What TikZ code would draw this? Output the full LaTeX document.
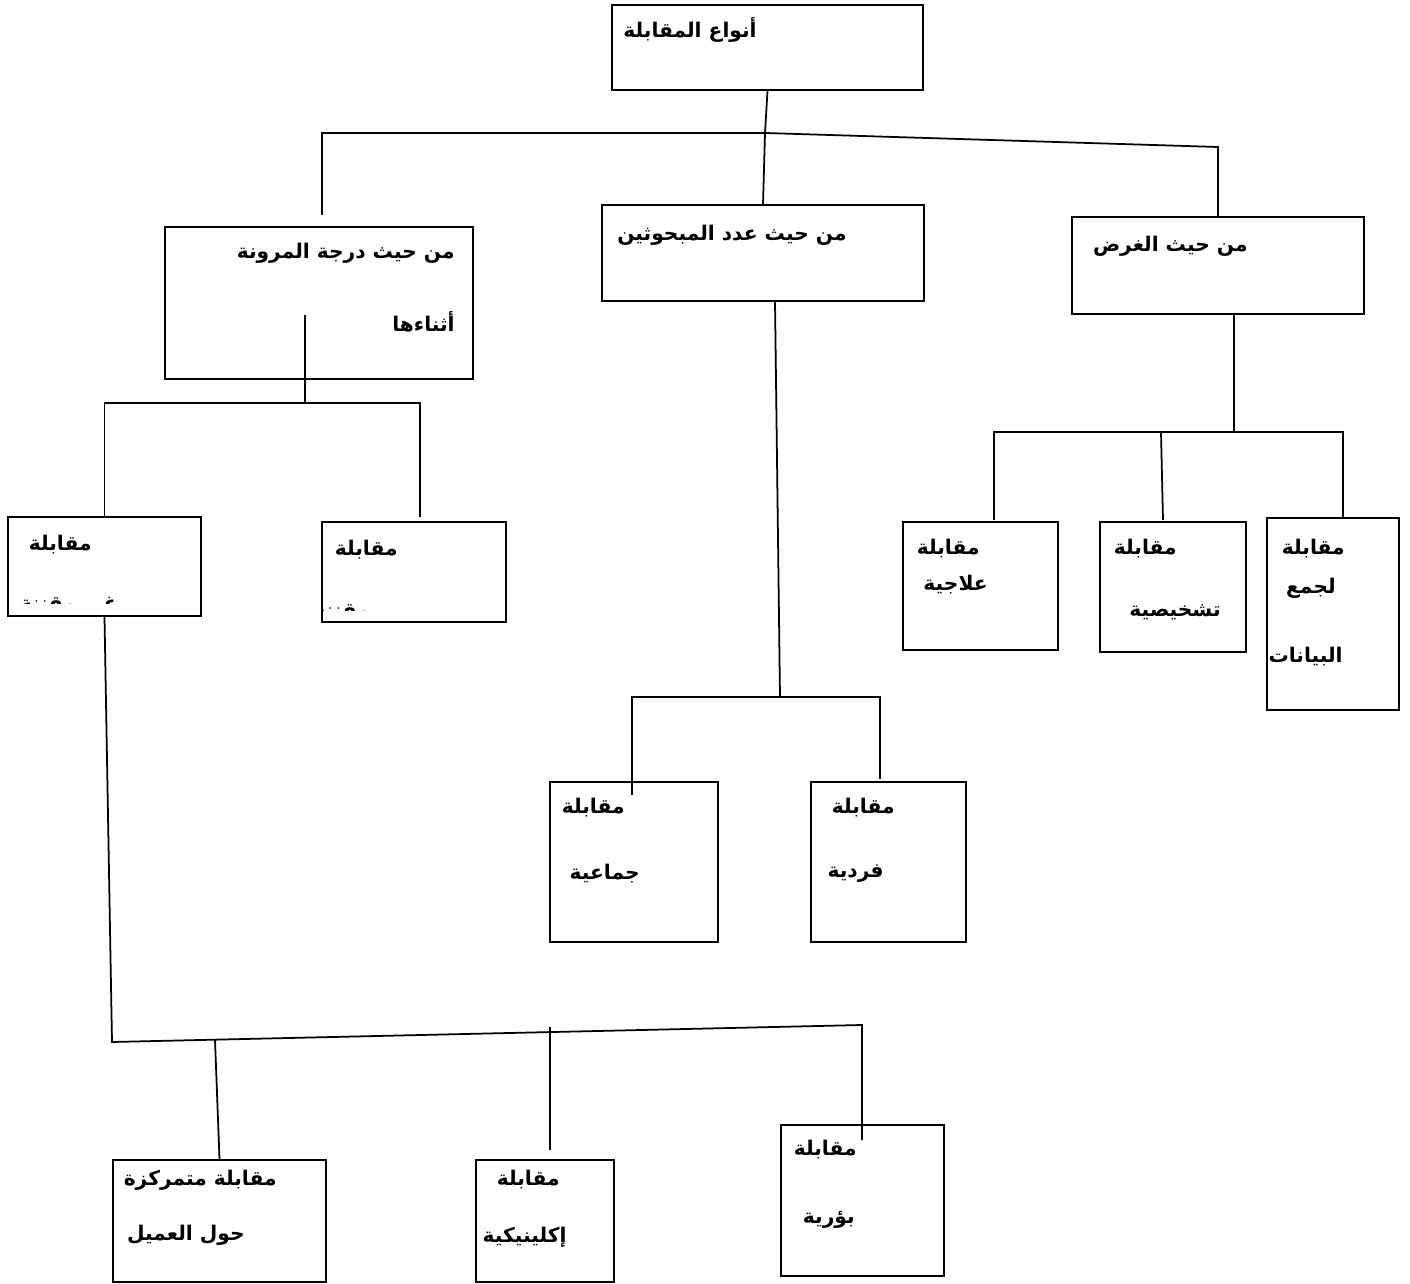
\documentclass[tikz,border=0pt]{standalone}
\usepackage{fontspec}
\newfontfamily\arabicfont[Script=Arabic]{DejaVu Sans}
\TeXXeTstate=1
\usetikzlibrary{fit}
\newcommand{\arb}[1]{\beginR #1\endR}

\begin{document}
\begin{tikzpicture}[x=0.02cm,y=-0.02cm,
        caja/.style={draw,line width=1.1pt,inner sep=0pt,fit={#1}},
        txt/.style={anchor=east,inner sep=0pt,font=\arabicfont\bfseries\fontsize{11.5}{14}\selectfont},
        linea/.style={line width=1pt}]
    \useasboundingbox (0,0) rectangle (1410,1284);

    % cajas
    \node[caja={(612,5) (923,90)}] (tipos) {};
    \node[caja={(165,227) (473,379)}] (flex) {};
    \node[caja={(602,205) (924,301)}] (numero) {};
    \node[caja={(1072,217) (1364,314)}] (objetivo) {};
    \node[caja={(8,517) (201,616)}] (nocodif) {};
    \node[caja={(322,522) (506,622)}] (codif) {};
    \node[caja={(550,782) (718,942)}] (grupal) {};
    \node[caja={(811,782) (966,942)}] (indiv) {};
    \node[caja={(903,522) (1058,650)}] (terap) {};
    \node[caja={(1100,522) (1246,652)}] (diagn) {};
    \node[caja={(1267,518) (1399,710)}] (datos) {};
    \node[caja={(113,1160) (326,1282)}] (cliente) {};
    \node[caja={(476,1160) (614,1282)}] (clinica) {};
    \node[caja={(781,1125) (944,1276)}] (focal) {};

    % textos
    \node[txt] (tipos-t) at (757,30) {\arb{أنواع المقابلة}};
    \node[txt] (flex-t1) at (455,253) {\arb{من حيث درجة المرونة}};
    \node[txt] (flex-t2) at (455,322) {\arb{أثناءها}};
    \node[txt] (numero-t) at (847,235) {\arb{من حيث عدد المبحوثين}};
    \node[txt] (objetivo-t) at (1248,246) {\arb{من حيث الغرض}};

    \node[txt] (nocodif-t) at (92,545) {\arb{مقابلة}};
    \node[txt] (codif-t) at (398,550) {\arb{مقابلة}};
    \begin{scope}
        \clip (8,517) rectangle (201,603);
        \node[txt,anchor=north east] (nocodif-t2) at (118,597) {\arb{غير مقننة}};
    \end{scope}
    \begin{scope}
        \clip (322,522) rectangle (506,610);
        \node[txt,anchor=north east] (codif-t2) at (370,604) {\arb{مقننة}};
    \end{scope}

    \node[txt] (grupal-t1) at (625,808) {\arb{مقابلة}};
    \node[txt] (grupal-t2) at (640,874) {\arb{جماعية}};
    \node[txt] (indiv-t1) at (895,808) {\arb{مقابلة}};
    \node[txt] (indiv-t2) at (884,874) {\arb{فردية}};

    \node[txt] (terap-t1) at (980,549) {\arb{مقابلة}};
    \node[txt] (terap-t2) at (988,585) {\arb{علاجية}};
    \node[txt] (diagn-t1) at (1177,549) {\arb{مقابلة}};
    \node[txt] (diagn-t2) at (1221,612) {\arb{تشخيصية}};
    \node[txt] (datos-t1) at (1345,549) {\arb{مقابلة}};
    \node[txt] (datos-t2) at (1336,588) {\arb{لجمع}};
    \node[txt] (datos-t3) at (1343,657) {\arb{البيانات}};

    \node[txt] (cliente-t1) at (277,1180) {\arb{مقابلة متمركزة}};
    \node[txt] (cliente-t2) at (245,1235) {\arb{حول العميل}};
    \node[txt] (clinica-t1) at (560,1180) {\arb{مقابلة}};
    \node[txt] (clinica-t2) at (567,1237) {\arb{إكلينيكية}};
    \node[txt] (focal-t1) at (857,1150) {\arb{مقابلة}};
    \node[txt] (focal-t2) at (855,1220) {\arb{بؤرية}};

    % puntos de union
    \coordinate (j0) at (765,133);
    \coordinate (jA) at (322,133);
    \coordinate (jC) at (1218,147);
    \coordinate (aA) at (322,215);
    \coordinate (bF) at (305,315);
    \coordinate (j1) at (305,403);
    \coordinate (aL2) at (420,517);
    \coordinate (bM) at (775,301);
    \coordinate (j2) at (780,697);
    \coordinate (aM1) at (632,795);
    \coordinate (aM2) at (880,779);
    \coordinate (bR) at (1234,314);
    \coordinate (j3) at (1234,432);
    \coordinate (aR1) at (994,520);
    \coordinate (jR2) at (1161,432);
    \coordinate (aR2) at (1163,520);
    \coordinate (aR3) at (1343,518);
    \coordinate (j4) at (112,1042);
    \coordinate (jC3) at (862,1025);
    \coordinate (aC3) at (862,1140);
    \coordinate (jC1) at (215,1040);
    \coordinate (bC2) at (550,1027);
    \coordinate (aC2) at (550,1150);

    % conectores
    \draw[linea] (tipos.south) -- (j0);
    \draw[linea] (aA) -- (jA) -- (j0) -- (jC) -- (objetivo.north -| jC);
    \draw[linea] (j0) -- (numero.north);

    \draw[linea] (bF) -- (j1);
    \draw[linea] (nocodif.north) |- (j1) -| (aL2);

    \draw[linea] (bM) -- (j2);
    \draw[linea] (aM1) |- (j2) -| (aM2);

    \draw[linea] (bR) -- (j3);
    \draw[linea] (aR1) |- (j3) -| (aR3);
    \draw[linea] (jR2) -- (aR2);

    \draw[linea] (nocodif.south) -- (j4) -- (jC3) -- (aC3);
    \draw[linea] (jC1) -- (cliente.north);
    \draw[linea] (bC2) -- (aC2);
\end{tikzpicture}
\end{document}
